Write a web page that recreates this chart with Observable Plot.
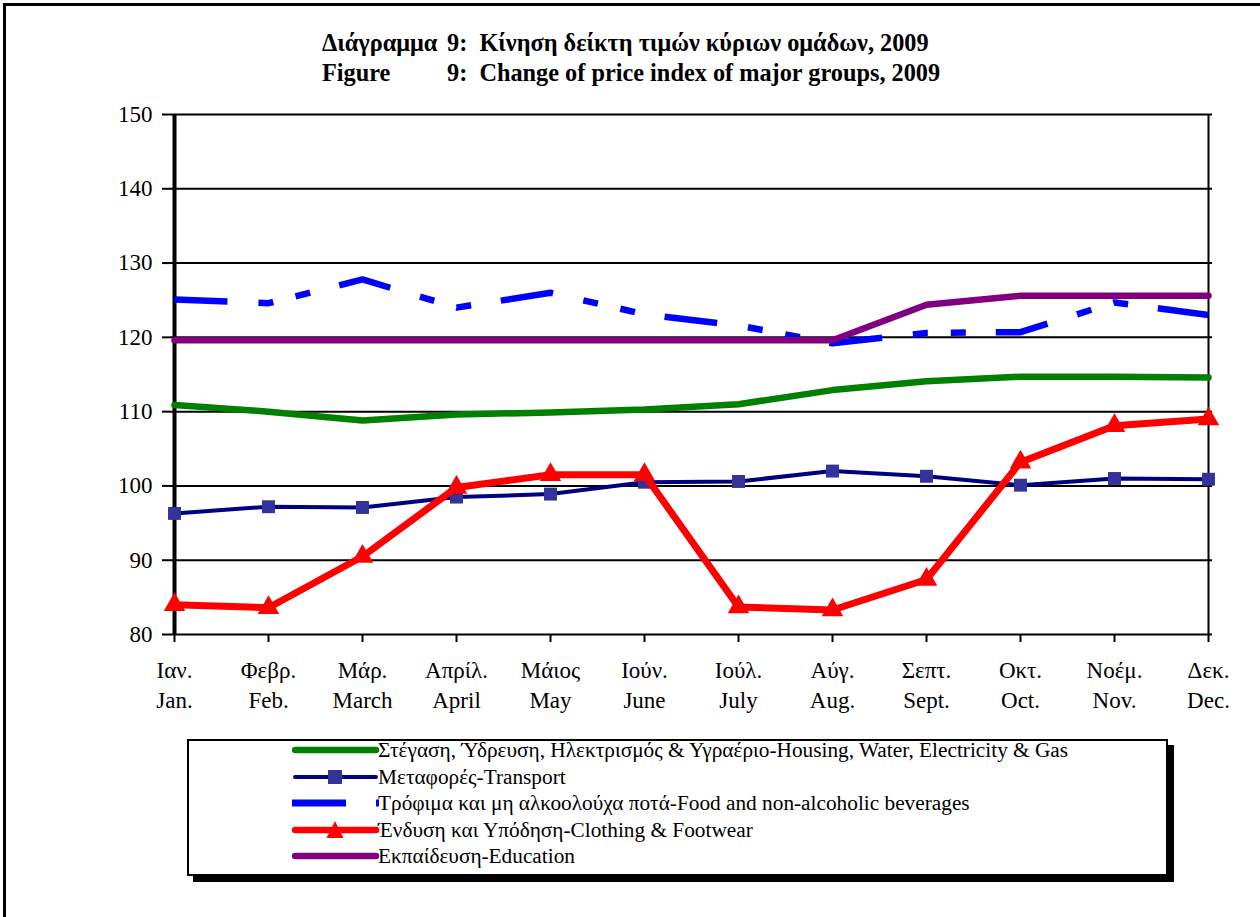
<!DOCTYPE html>
<html>
<head>
<meta charset="utf-8">
<script src="https://cdn.jsdelivr.net/npm/d3@7"></script>
<script src="https://cdn.jsdelivr.net/npm/@observablehq/plot@0.6"></script>
<style>
  html, body { margin: 0; padding: 0; background: #fff; }
  body { width: 1260px; height: 917px; position: relative; overflow: hidden; font-family: "Liberation Serif", "Times New Roman", serif; color: #000; }
  #frame { position: absolute; left: 3px; top: 3px; width: 1400px; height: 1000px; border-left: 3px solid #000; border-top: 3px solid #000; }
  #title { position: absolute; left: 322px; top: 28px; font-weight: bold; font-size: 24.3px; line-height: 30px; white-space: pre; }
  #title .c1 { display: inline-block; width: 125px; }
  #chart { position: absolute; left: 0; top: 90px; }
  #legend { position: absolute; left: 187px; top: 739px; width: 981px; height: 137px; box-sizing: border-box; border: 2px solid #000; box-shadow: 6px 6px 0 #000; background: #fff; }
  .row { position: absolute; left: 0; height: 26px; width: 970px; }
  .row svg { position: absolute; left: 103px; top: 0; }
  .row span { position: absolute; left: 189px; top: 0; font-size: 21.3px; line-height: 26px; white-space: nowrap; }
</style>
</head>
<body>
<div id="frame"></div>
<div id="title"><div><span class="c1">Διάγραμμα</span>9:  Κίνηση δείκτη τιμών κύριων ομάδων, 2009</div><div><span class="c1">Figure</span>9:  Change of price index of major groups, 2009</div></div>
<div id="chart"></div>
<div id="legend"></div>
<script>
// ---- data ----
const monthsGr = ["Ιαν.", "Φεβρ.", "Μάρ.", "Απρίλ.", "Μάιος", "Ιούν.", "Ιούλ.", "Αύγ.", "Σεπτ.", "Οκτ.", "Νοέμ.", "Δεκ."];
const monthsEn = ["Jan.", "Feb.", "March", "April", "May", "June", "July", "Aug.", "Sept.", "Oct.", "Nov.", "Dec."];
const yTicks = [80, 90, 100, 110, 120, 130, 140, 150];

const housing   = [110.9, 110.0, 108.8, 109.6, 109.9, 110.3, 111.0, 112.9, 114.1, 114.7, 114.7, 114.6];
const transport = [96.3, 97.2, 97.1, 98.5, 98.9, 100.5, 100.6, 102.0, 101.3, 100.1, 101.0, 100.9];
const food      = [125.1, 124.6, 127.8, 124.0, 126.0, 123.1, 121.6, 119.2, 120.6, 120.7, 124.7, 123.0];
const clothing  = [84.0, 83.6, 90.5, 99.8, 101.5, 101.5, 83.7, 83.3, 87.4, 103.2, 108.1, 109.0];
const education = [119.6, 119.6, 119.6, 119.6, 119.6, 119.6, 119.6, 119.6, 124.4, 125.6, 125.6, 125.6];

const seriesNames = [
  "Στέγαση, Ύδρευση, Ηλεκτρισμός & Υγραέριο-Housing, Water, Electricity & Gas",
  "Μεταφορές-Transport",
  "Τρόφιμα και μη αλκοολούχα ποτά-Food and non-alcoholic beverages",
  "Ένδυση και Υπόδηση-Clothing & Footwear",
  "Εκπαίδευση-Education"
];
const seriesColors = ["#008000", "#000080", "#0000FF", "#FF0000", "#800080"];
const markerFill = "#333399";
const foodDash = "53,31,15,23,15,30";

// ---- chart ----
const rows = (vals) => vals.map((v, i) => ({ m: monthsEn[i], v }));

const chart = Plot.plot({
  width: 1260,
  height: 634,
  marginLeft: 170,
  marginRight: 48,
  marginTop: 24,
  marginBottom: 90,
  style: { fontFamily: "'Liberation Serif', 'Times New Roman', serif", fontSize: "23px", color: "#000", background: "transparent", overflow: "visible" },
  x: { type: "point", domain: monthsEn, padding: 0 },
  y: { domain: [80, 150] },
  marks: [
    Plot.gridY(yTicks, { stroke: "#000", strokeOpacity: 1, strokeWidth: 2 }),
    Plot.ruleX([monthsEn[monthsEn.length - 1]], { stroke: "#000", strokeWidth: 2 }),
    Plot.ruleX([monthsEn[0]], { stroke: "#000", strokeWidth: 4 }),
    Plot.axisY(yTicks, { tickSize: 8, tickPadding: 10, fontSize: 23, stroke: "#000", strokeWidth: 2, label: null }),
    Plot.axisX({ tickSize: 8, tickPadding: 14, fontSize: 23, lineHeight: 1.3, stroke: "#000", strokeWidth: 2, label: null,
      tickFormat: d => monthsGr[monthsEn.indexOf(d)] + "\n" + d }),
    Plot.line(rows(housing), { x: "m", y: "v", stroke: seriesColors[0], strokeWidth: 6.5, strokeLinecap: "round", strokeLinejoin: "round" }),
    Plot.line(rows(transport), { x: "m", y: "v", stroke: seriesColors[1], strokeWidth: 4, strokeLinecap: "round", strokeLinejoin: "round" }),
    Plot.dot(rows(transport), { x: "m", y: "v", symbol: "square", r: 7.3, fill: markerFill, stroke: "none" }),
    Plot.line(rows(food), { x: "m", y: "v", stroke: seriesColors[2], strokeWidth: 6.5, strokeDasharray: foodDash, strokeLinecap: "butt", strokeLinejoin: "miter" }),
    Plot.line(rows(clothing), { x: "m", y: "v", stroke: seriesColors[3], strokeWidth: 7, strokeLinecap: "round", strokeLinejoin: "round" }),
    Plot.dot(rows(clothing), { x: "m", y: "v", symbol: "triangle", r: 8, fill: seriesColors[3], stroke: "none" }),
    Plot.line(rows(education), { x: "m", y: "v", stroke: seriesColors[4], strokeWidth: 6.5, strokeLinecap: "round", strokeLinejoin: "round" })
  ]
});
document.getElementById("chart").appendChild(chart);

// ---- legend ----
const legend = document.getElementById("legend");
const rowCenters = [9, 35.5, 62, 88.5, 115];
const ns = "http://www.w3.org/2000/svg";
seriesNames.forEach((name, i) => {
  const row = document.createElement("div");
  row.className = "row";
  row.style.top = (rowCenters[i] - 13) + "px";
  const svg = document.createElementNS(ns, "svg");
  svg.setAttribute("width", 90);
  svg.setAttribute("height", 26);
  const mk = (tag, attrs) => { const el = document.createElementNS(ns, tag); for (const k in attrs) el.setAttribute(k, attrs[k]); svg.appendChild(el); return el; };
  if (i === 2) {
    mk("rect", { x: 0, y: 9.5, width: 54, height: 7, fill: seriesColors[i] });
    mk("rect", { x: 84, y: 9.5, width: 3, height: 7, fill: seriesColors[i] });
  } else {
    mk("line", { x1: 3, x2: 84, y1: 13, y2: 13, stroke: seriesColors[i], "stroke-width": i === 1 ? 4 : 6.5, "stroke-linecap": "round" });
    if (i === 1) mk("rect", { x: 36, y: 6, width: 14, height: 14, fill: markerFill });
    if (i === 3) mk("path", { d: "M43,4 L51.5,21 L34.5,21 Z", fill: seriesColors[i] });
  }
  row.appendChild(svg);
  const span = document.createElement("span");
  span.textContent = name;
  row.appendChild(span);
  legend.appendChild(row);
});
</script>
</body>
</html>
